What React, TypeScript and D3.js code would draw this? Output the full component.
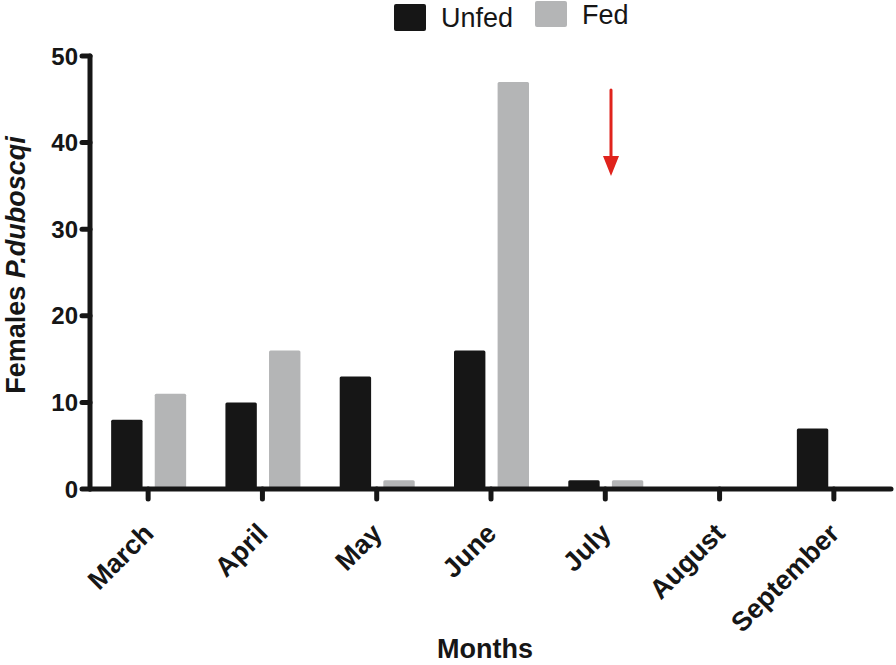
import React from "react";
import * as d3 from "d3";

const months = ["March", "April", "May", "June", "July", "August", "September"];
const series = ["Unfed", "Fed"];
const unfed = [8, 10, 13, 16, 1, 0, 7];
const fed = [11, 16, 1, 47, 1, 0, 0];
const yTicks = [0, 10, 20, 30, 40, 50];
const colors = ["#161616", "#b4b5b6"];

export default function App() {
  const W = 896, H = 665;
  const x0 = 91, x1 = 891, yTop = 56, yBot = 489;
  const x = d3.scaleBand().domain(months).range([x0, x1]);
  const y = d3.scaleLinear().domain([0, 50]).range([yBot, yTop]);
  const sub = d3.scaleBand().domain(series).range([-37, 38]).paddingInner(0.28);
  const vals = [unfed, fed];
  const font = "Arial, 'Liberation Sans', sans-serif";
  return (
    <svg width={W} height={H} style={{ position: "absolute", left: 0, top: 0 }} fontFamily={font}>
      <rect width={W} height={H} fill="#fff" />
      {series.map((s, si) =>
        months.map((m, i) => {
          const v = vals[si][i];
          if (v <= 0) return null;
          const cx = x(m)! + x.bandwidth() / 2;
          return (
            <rect key={s + m} x={cx + sub(s)!} y={y(v)} width={sub.bandwidth()} height={yBot - y(v)}
              fill={colors[si]} rx={1.5} />
          );
        })
      )}
      {/* y axis */}
      <line x1={90} x2={90} y1={yTop} y2={yBot} stroke="#161616" strokeWidth={5} strokeLinecap="round" />
      {yTicks.map((t) => (
        <g key={t}>
          <line x1={82} x2={90} y1={y(t)} y2={y(t)} stroke="#161616" strokeWidth={5} strokeLinecap="round" />
          <text x={78} y={y(t)} dy="0.36em" textAnchor="end" fontSize={24} fontWeight="bold" fill="#161616">{t}</text>
        </g>
      ))}
      {/* x axis */}
      <line x1={90} x2={x1} y1={yBot} y2={yBot} stroke="#161616" strokeWidth={5} strokeLinecap="round" />
      {months.map((m) => {
        const cx = x(m)! + x.bandwidth() / 2;
        return (
          <g key={m}>
            <line x1={cx} x2={cx} y1={yBot} y2={yBot + 10} stroke="#161616" strokeWidth={5} strokeLinecap="round" />
            <text transform={`translate(${cx + 7},${yBot + 46}) rotate(-45)`} textAnchor="end" fontSize={27}
              fontWeight="bold" fill="#161616">{m}</text>
          </g>
        );
      })}
      <text x={485} y={658} textAnchor="middle" fontSize={27} fontWeight="bold" fill="#161616">Months</text>
      <text transform={`translate(25,265) rotate(-90)`} textAnchor="middle" fontSize={27}
        fontWeight="bold" fill="#161616">
        Females <tspan fontStyle="italic">P.duboscqi</tspan>
      </text>
      {/* legend */}
      <rect x={394} y={4} width={32} height={27} fill={colors[0]} rx={2} />
      <text x={441} y={27} fontSize={27} fill="#161616">Unfed</text>
      <rect x={535} y={1} width={32} height={26} fill={colors[1]} rx={2} />
      <text x={582} y={24} fontSize={27} fill="#161616">Fed</text>
      {/* arrow */}
      <line x1={611} x2={611} y1={90} y2={160} stroke="#e0231c" strokeWidth={3} strokeLinecap="round" />
      <path d="M603,156 L619,156 L611,176 Z" fill="#e0231c" />
    </svg>
  );
}
